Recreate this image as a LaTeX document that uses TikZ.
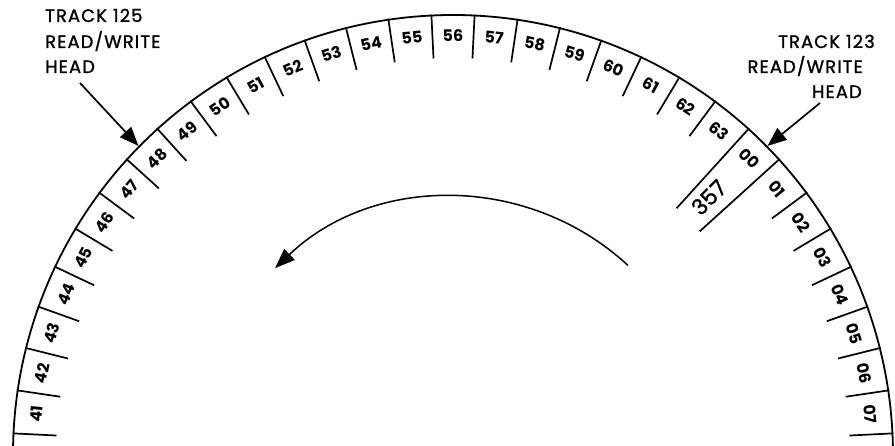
\documentclass[tikz,border=0pt]{standalone}
\usepackage{fontspec}
\setmainfont{Poppins}
\newfontfamily\headfont[LetterSpace=6,FakeBold=1.2]{Poppins}
\newfontfamily\bigfont[FakeBold=1.2]{Poppins}
\usetikzlibrary{arrows.meta}
\begin{document}
\begin{tikzpicture}[x=1pt,y=1pt,
  ringsty/.style={line width=1.8pt},
  ticksty/.style={line width=1.7pt},
  seclab/.style={font=\bfseries\fontsize{16}{16}\selectfont, inner sep=0pt},
  bigsty/.style={font=\bigfont\fontsize{22}{22}\selectfont, inner sep=0pt},
  headtxt/.style={font=\headfont\fontsize{18}{18}\selectfont, inner sep=0pt},
  headarrow/.style={line width=1.7pt, -{Triangle[length=19pt,width=15pt]}},
  rotarrow/.style={line width=1.5pt, -{Triangle[length=20pt,width=15pt]}}
]
\clip (-453,9) rectangle (442,455);
% outer rim
\draw[ringsty] (182:440) arc[start angle=182,end angle=-2,radius=440];
% sector boundaries
\foreach \i in {0,...,31} {
  \pgfmathsetmacro\a{177.1875-\i*5.625}
  \pgfmathsetmacro\ri{(\i==23||\i==24)?333:397}
  \draw[ticksty] (\a:\ri) -- (\a:441);
}
% sector labels
\foreach \lab [count=\k from 0] in {41,42,...,63,00,01,02,03,04,05,06,07} {
  \pgfmathsetmacro\a{174.375-\k*5.625}
  \node[seclab, rotate=\a-90] (s\k) at (\a:419) {\lab};
}
\node[bigsty, rotate=45] (n357) at (45.2:363) {357};
% heads
\coordinate (h125) at (135.5:441);
\coordinate (h123) at (44.5:441);
\coordinate (a125) at (-373,372);
\coordinate (a123) at (367,352);
\node[headtxt, anchor=base west] (l1) at (-408,433) {TRACK 125};
\node[headtxt, anchor=base west] (l2) at (-408,407) {READ/WRITE};
\node[headtxt, anchor=base west] (l3) at (-408,382) {HEAD};
\node[headtxt, anchor=base east] (r1) at (422,407) {TRACK 123};
\node[headtxt, anchor=base east] (r2) at (410,382) {READ/WRITE};
\node[headtxt, anchor=base east] (r3) at (409,357) {HEAD};
\draw[headarrow] (a125) -- (h125);
\draw[headarrow] (a123) -- (h123);
% rotation
\coordinate (rotS) at (47.3:258);
\draw[rotarrow] (rotS) arc[start angle=47.3,end angle=133.6,radius=258];
\end{tikzpicture}
\end{document}
